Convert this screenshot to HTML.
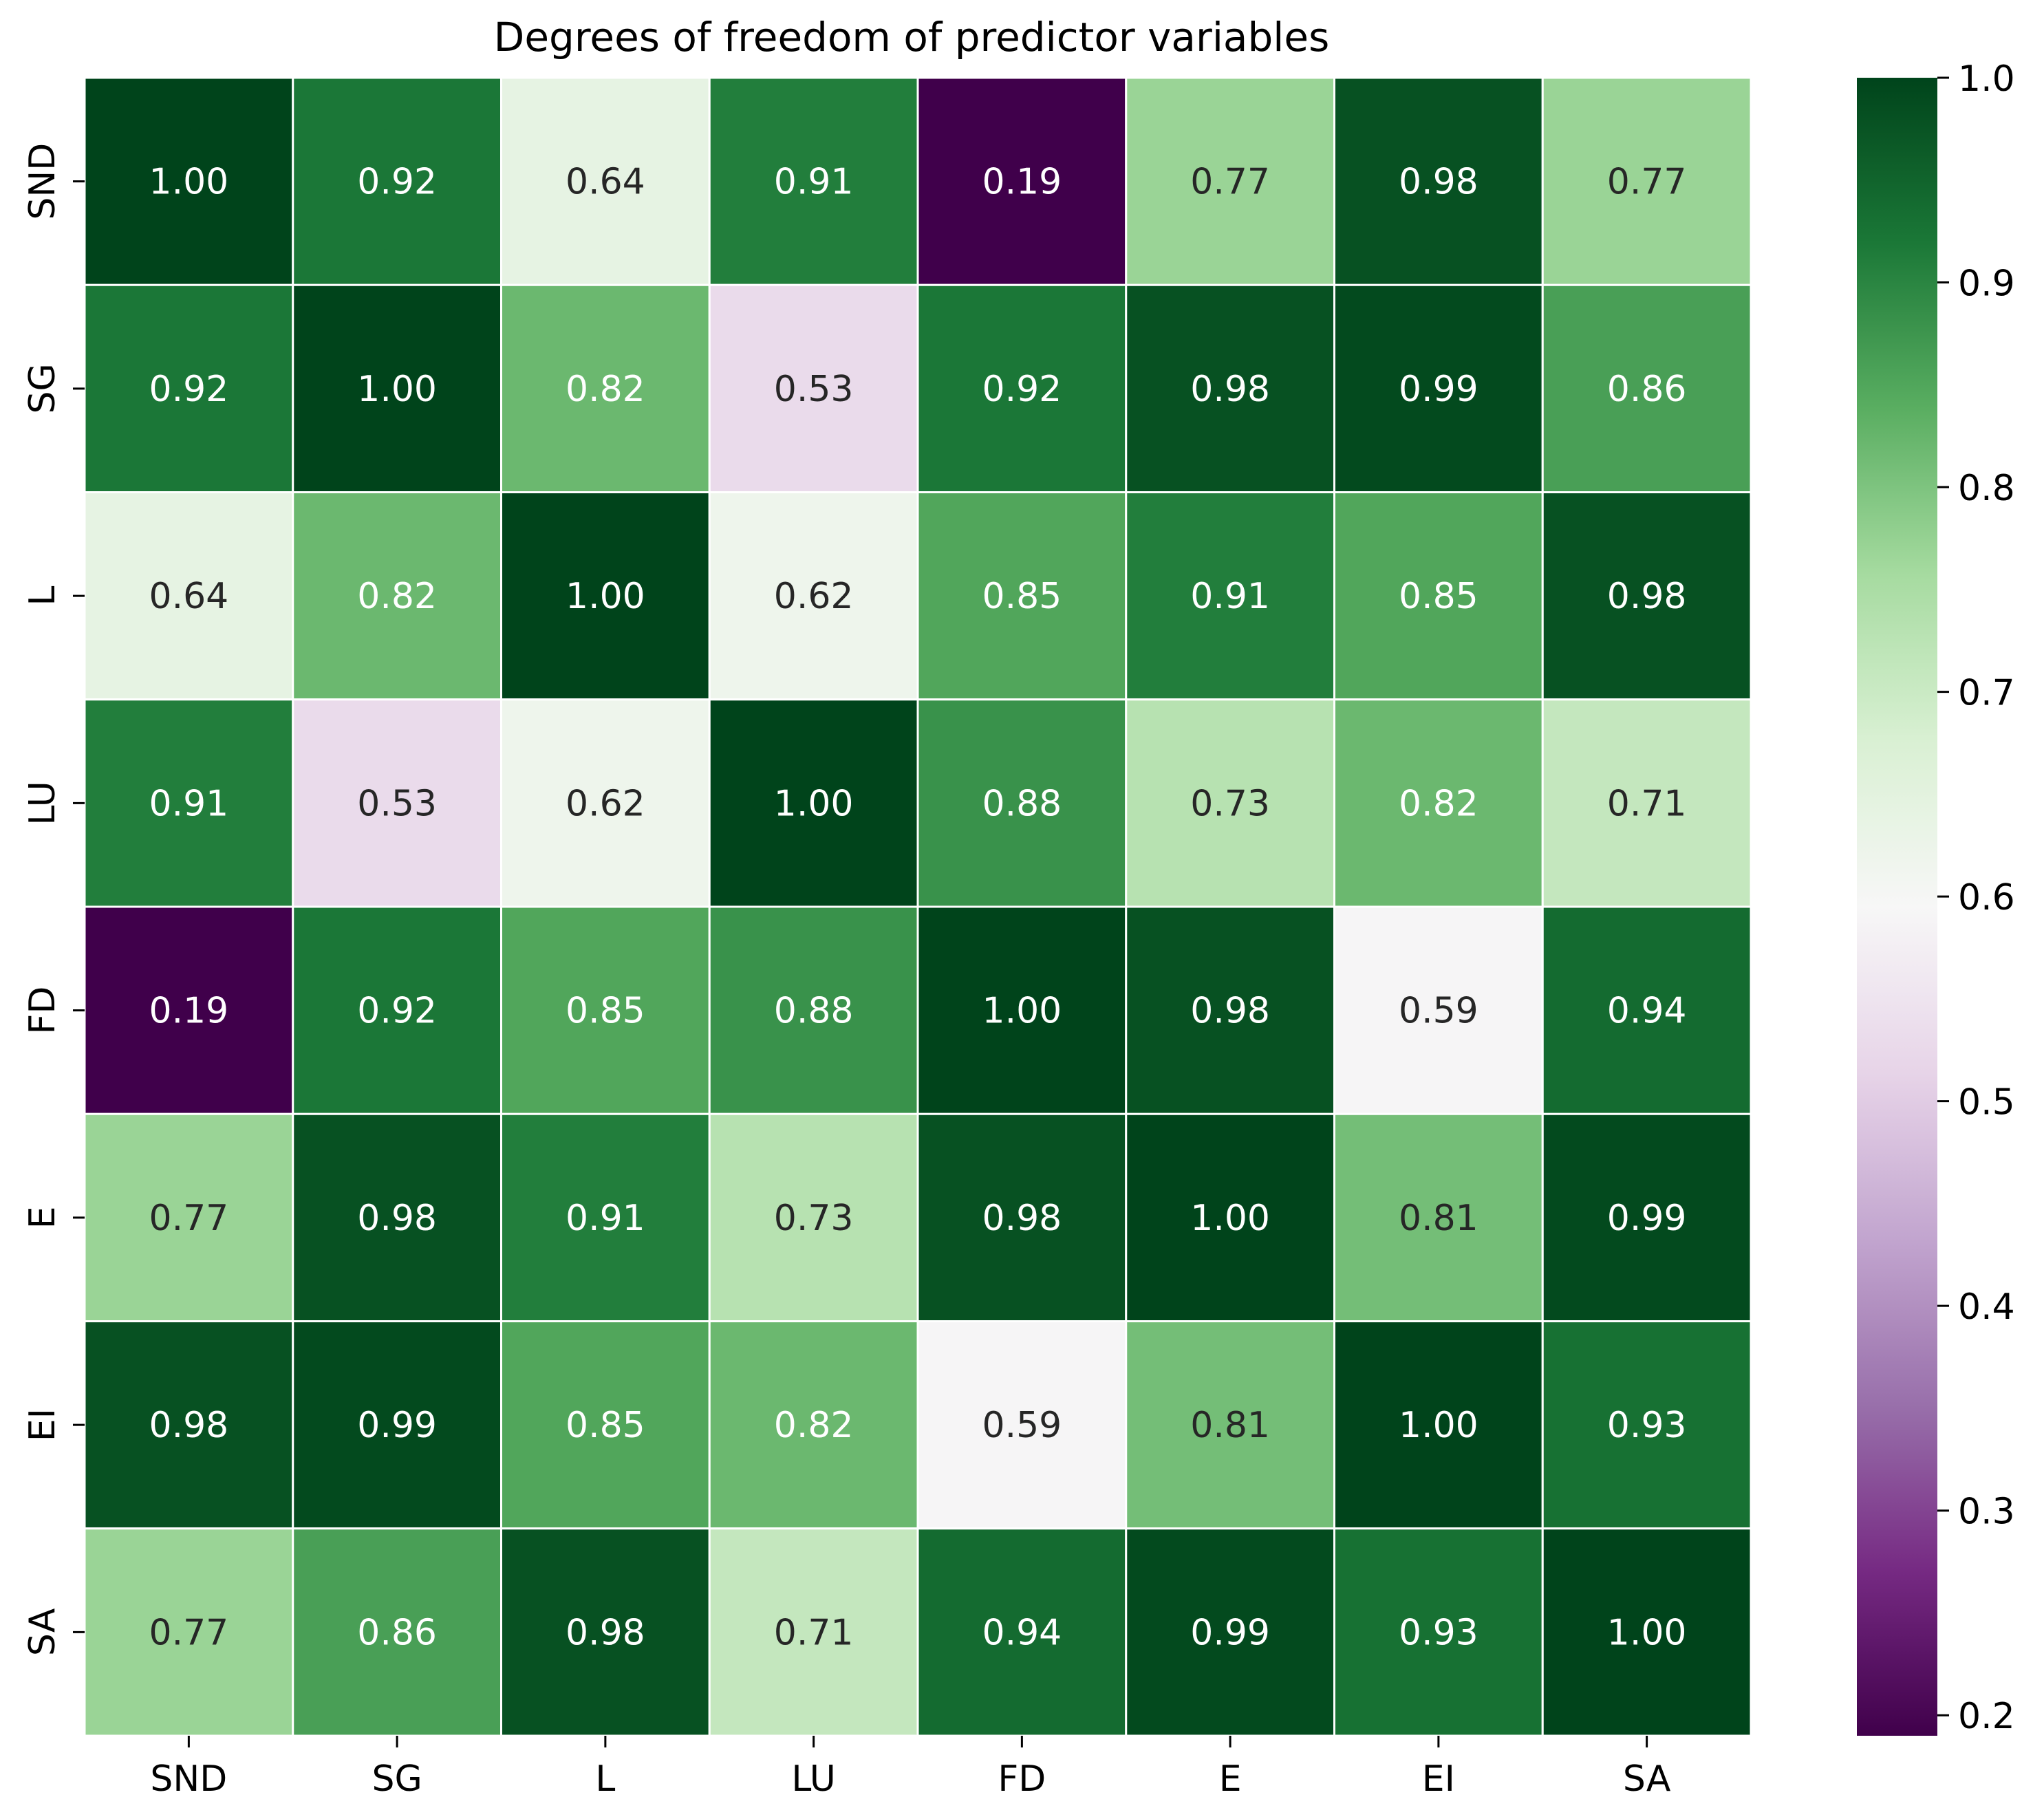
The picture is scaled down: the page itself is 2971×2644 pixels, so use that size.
<!DOCTYPE html>
<html><head><meta charset="utf-8"><style>
html,body{margin:0;padding:0;background:#fff;}
svg{display:block;font-family:"DejaVu Sans","Liberation Sans",sans-serif;}
</style></head><body>
<svg id="chart" width="2971" height="2644" viewBox="0 0 2971 2644" xmlns="http://www.w3.org/2000/svg">
<text x="1325" y="74" font-size="58" text-anchor="middle" fill="#000">Degrees of freedom of predictor variables</text>
<g id="cells"></g>
<g id="axes"></g>
<defs><linearGradient id="cbgrad" x1="0" y1="1" x2="0" y2="0"></linearGradient></defs>
<g id="cbar"></g>
</svg>
<script>
const labels = ["SND","SG","L","LU","FD","E","EI","SA"];
const rowSND = [1.00,0.92,0.64,0.91,0.19,0.77,0.98,0.77];
const rowSG  = [0.92,1.00,0.82,0.53,0.92,0.98,0.99,0.86];
const rowL   = [0.64,0.82,1.00,0.62,0.85,0.91,0.85,0.98];
const rowLU  = [0.91,0.53,0.62,1.00,0.88,0.73,0.82,0.71];
const rowFD  = [0.19,0.92,0.85,0.88,1.00,0.98,0.59,0.94];
const rowE   = [0.77,0.98,0.91,0.73,0.98,1.00,0.81,0.99];
const rowEI  = [0.98,0.99,0.85,0.82,0.59,0.81,1.00,0.93];
const rowSA  = [0.77,0.86,0.98,0.71,0.94,0.99,0.93,1.00];
const cbTicks = [0.2,0.3,0.4,0.5,0.6,0.7,0.8,0.9,1.0];
const vmin = 0.19, vmax = 1.0;

const matrix = [rowSND,rowSG,rowL,rowLU,rowFD,rowE,rowEI,rowSA];
const NS="http://www.w3.org/2000/svg";
const X0=123, X1=2545, Y0=113, Y1=2523;
const n=labels.length, cw=(X1-X0)/n, ch=(Y1-Y0)/n;
const xc=i=>X0+cw*(i+0.5), yc=j=>Y0+ch*(j+0.5);
const CB={x:2699,w:117,top:113,bot:2523};
const cbY=v=>CB.bot-(v-vmin)/(vmax-vmin)*(CB.bot-CB.top);

const stops=["#40004b","#762a83","#9970ab","#c2a5cf","#e7d4e8","#f7f7f7","#d9f0d3","#a6dba0","#5aae61","#1b7837","#00441b"];
const hx=h=>[1,3,5].map(k=>parseInt(h.substr(k,2),16));
function cmap(t){t=Math.max(0,Math.min(1,t));const p=t*(stops.length-1);const i=Math.min(Math.floor(p),stops.length-2);const f=p-i;const a=hx(stops[i]),b=hx(stops[i+1]);return a.map((v,k)=>Math.round(v+(b[k]-v)*f));}
function lum(c){const l=c.map(v=>{v/=255;return v<=0.03928?v/12.92:Math.pow((v+0.055)/1.055,2.4);});return 0.2126*l[0]+0.7152*l[1]+0.0722*l[2];}
function mk(tag,attrs,parent){const e=document.createElementNS(NS,tag);for(const k in attrs)e.setAttribute(k,attrs[k]);parent.appendChild(e);return e;}

const gc=document.getElementById('cells');
matrix.forEach((row,j)=>row.forEach((v,i)=>{
  const c=cmap((v-vmin)/(vmax-vmin));
  const r=mk('rect',{x:X0+cw*i,y:Y0+ch*j,width:cw,height:ch,fill:`rgb(${c})`,stroke:'#fff','stroke-width':3},gc);
  
  
  const t=mk('text',{x:xc(i),y:yc(j)+18,'font-size':52,'text-anchor':'middle',fill:lum(c)>0.408?'#262626':'#ffffff'},gc);
  t.textContent=v.toFixed(2);
  
  
}));

const ga=document.getElementById('axes');
labels.forEach((lab,i)=>{
  mk('line',{x1:xc(i),x2:xc(i),y1:Y1,y2:Y1+17,stroke:'#000','stroke-width':3},ga);
  const t=mk('text',{x:xc(i),y:Y1+80,'font-size':52,'text-anchor':'middle',fill:'#000'},ga);
  t.textContent=lab;
  
  
  mk('line',{x1:X0-17,x2:X0,y1:yc(i),y2:yc(i),stroke:'#000','stroke-width':3},ga);
  const ty=mk('text',{x:0,y:0,'font-size':52,'text-anchor':'middle',fill:'#000',transform:`translate(79,${yc(i)}) rotate(-90)`},ga);
  ty.textContent=lab;
  
  
});

const grad=document.getElementById('cbgrad');
for(let k=0;k<=40;k++){const c=cmap(k/40);mk('stop',{offset:(k/40),'stop-color':`rgb(${c})`},grad);}
const gb=document.getElementById('cbar');
const cbr=mk('rect',{x:CB.x,y:CB.top,width:CB.w,height:CB.bot-CB.top,fill:'url(#cbgrad)'},gb);


cbTicks.forEach(v=>{
  const y=cbY(v);
  mk('line',{x1:CB.x+CB.w,x2:CB.x+CB.w+17,y1:y,y2:y,stroke:'#000','stroke-width':3},gb);
  const t=mk('text',{x:CB.x+CB.w+30,y:y+19,'font-size':52,fill:'#000'},gb);
  t.textContent=v.toFixed(1);
  
  
});
</script>
</body></html>
